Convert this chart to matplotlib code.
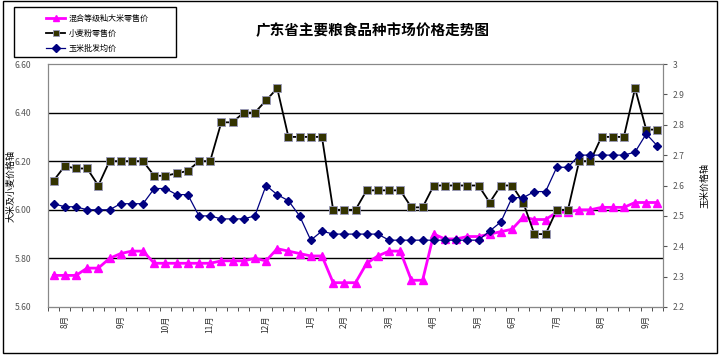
import numpy as np
import matplotlib
matplotlib.use('Agg')
import matplotlib.pyplot as plt
from matplotlib.patches import Rectangle
from matplotlib.ticker import FixedLocator, FuncFormatter

plt.rcParams['font.family'] = ['Noto Sans CJK SC', 'DejaVu Sans']

# weekly prices (55 weeks)
rice = [5.73, 5.73, 5.73, 5.76, 5.76, 5.80, 5.82, 5.83, 5.83, 5.78,
        5.78, 5.78, 5.78, 5.78, 5.78, 5.79, 5.79, 5.79, 5.80, 5.79,
        5.84, 5.83, 5.82, 5.81, 5.81, 5.70, 5.70, 5.70, 5.78, 5.81,
        5.83, 5.83, 5.71, 5.71, 5.90, 5.88, 5.88, 5.89, 5.89, 5.90,
        5.91, 5.92, 5.97, 5.96, 5.96, 5.99, 5.99, 6.00, 6.00, 6.01,
        6.01, 6.01, 6.03, 6.03, 6.03]
flour = [6.12, 6.18, 6.17, 6.17, 6.10, 6.20, 6.20, 6.20, 6.20, 6.14,
         6.14, 6.15, 6.16, 6.20, 6.20, 6.36, 6.36, 6.40, 6.40, 6.45,
         6.50, 6.30, 6.30, 6.30, 6.30, 6.00, 6.00, 6.00, 6.08, 6.08,
         6.08, 6.08, 6.01, 6.01, 6.10, 6.10, 6.10, 6.10, 6.10, 6.03,
         6.10, 6.10, 6.03, 5.90, 5.90, 6.00, 6.00, 6.20, 6.20, 6.30,
         6.30, 6.30, 6.50, 6.33, 6.33]
corn = [2.54, 2.53, 2.53, 2.52, 2.52, 2.52, 2.54, 2.54, 2.54, 2.59,
        2.59, 2.57, 2.57, 2.50, 2.50, 2.49, 2.49, 2.49, 2.50, 2.60,
        2.57, 2.55, 2.50, 2.42, 2.45, 2.44, 2.44, 2.44, 2.44, 2.44,
        2.42, 2.42, 2.42, 2.42, 2.42, 2.42, 2.42, 2.42, 2.42, 2.45,
        2.48, 2.56, 2.56, 2.58, 2.58, 2.66, 2.66, 2.70, 2.70, 2.70,
        2.70, 2.70, 2.71, 2.77, 2.73]

month_pos = [2, 7, 11, 15, 20, 24, 27, 31, 35, 39, 42, 46, 50, 54]
month_labels = ['8月', '9月', '10月', '11月', '12月', '1月', '2月', '3月',
                '4月', '5月', '6月', '7月', '8月', '9月']

x = np.arange(1, len(rice) + 1)

fig = plt.figure(figsize=(7.2, 3.62), dpi=100)
ax1 = fig.add_axes([48 / 720, 55 / 362, 615 / 720, 243 / 362])
ax2 = ax1.twinx()

ax1.set_xlim(0.5, len(x) + 0.5)
ax1.set_ylim(5.6, 6.6)
ax2.set_ylim(2.2, 3.0)

for v in [5.8, 6.0, 6.2, 6.4]:
    ax1.axhline(v, color='black', lw=1.0, zorder=0)

l1, = ax1.plot(x, rice, color='#ff00ff', lw=2.0, marker='^', ms=6,
               mfc='#ff00ff', mec='#ff00ff', label='混合等级籼大米零售价', zorder=3)
l2, = ax1.plot(x, flour, color='black', lw=1.3, marker='s', ms=5.5,
               mfc='#333300', mec='#9999bb', mew=0.6, label='小麦粉零售价', zorder=3)
l3, = ax2.plot(x, corn, color='#000080', lw=0.9, marker='D', ms=4.5,
               mfc='#000080', mec='#000080', label='玉米批发均价', zorder=3)

ax1.set_yticks([5.6, 5.8, 6.0, 6.2, 6.4, 6.6])
ax1.yaxis.set_major_formatter(FuncFormatter(lambda v, p: '%.2f' % v))
ax2.set_yticks([2.2, 2.3, 2.4, 2.5, 2.6, 2.7, 2.8, 2.9, 3.0])
ax2.yaxis.set_major_formatter(FuncFormatter(lambda v, p: '%g' % round(v, 1)))

ax1.tick_params(axis='y', length=0, pad=12, labelsize=6.2, labelcolor='#555555')
ax2.tick_params(axis='y', length=3, pad=4, labelsize=6.2, labelcolor='#555555',
                color='#555555')

ax1.set_xticks(month_pos)
ax1.set_xticklabels(month_labels, rotation=90, fontsize=6, color='#333333')
ax1.xaxis.set_minor_locator(FixedLocator(np.arange(0.5, len(x) + 1, 1.0)))
ax1.tick_params(axis='x', which='major', length=0, pad=6)
ax1.tick_params(axis='x', which='minor', length=3, color='#333333')

for a in (ax1, ax2):
    for s in a.spines.values():
        s.set_color('#888888')
        s.set_linewidth(0.8)
ax1.spines['bottom'].set_color('#333333')

ax1.set_ylabel('大米及小麦价格轴', fontsize=6.5, va='center')
ax1.yaxis.set_label_coords((11 - 48) / 615, 0.5)
ax2.set_ylabel('玉米价格轴', fontsize=6.5, rotation=90, va='center')
ax2.yaxis.set_label_coords((705 - 48) / 615, 0.5)

fig.text(373 / 720, 1 - 30 / 362, '广东省主要粮食品种市场价格走势图',
         ha='center', va='center', fontsize=10.5, fontweight='bold')

fig.legend(handles=[l1, l2, l3], loc='upper left',
           bbox_to_anchor=(42 / 720, 1 - 10 / 362), frameon=False,
           fontsize=5.8, borderpad=0, handlelength=2.4, handletextpad=0.4,
           labelspacing=0.75, markerscale=0.8)
fig.patches.append(Rectangle((14 / 720, 1 - 57 / 362), 162 / 720, 50 / 362,
                             transform=fig.transFigure, fill=False,
                             edgecolor='black', lw=1.0))
fig.patches.append(Rectangle((3 / 720, 1 - 353 / 362), 714 / 720, 352 / 362,
                             transform=fig.transFigure, fill=False,
                             edgecolor='black', lw=1.0))

fig.savefig('out.png', dpi=100)
